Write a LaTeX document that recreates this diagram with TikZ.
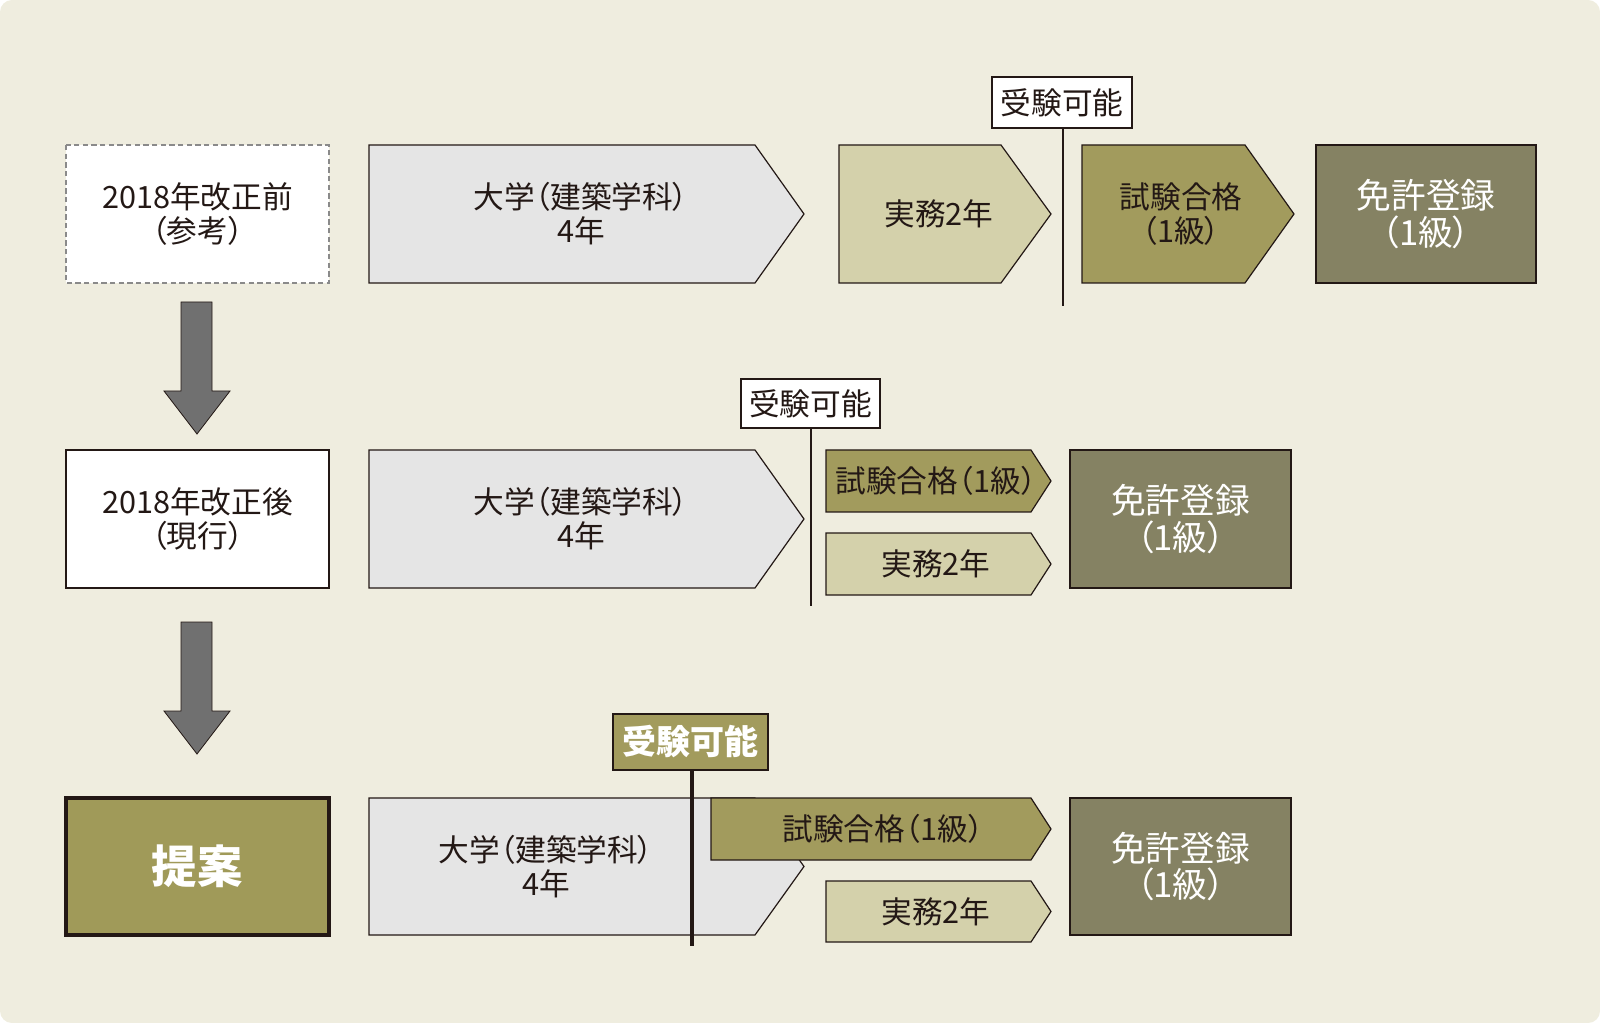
\documentclass[tikz,border=0pt]{standalone}
\usepackage{fontspec}
\newfontfamily\jp{Noto Sans CJK JP}[RawFeature=+palt]
\definecolor{bg}{HTML}{EFEDDF}
\definecolor{uni}{HTML}{E5E5E5}
\definecolor{jitsu}{HTML}{D4D1AB}
\definecolor{shiken}{HTML}{A29B5D}
\definecolor{menkyo}{HTML}{858263}
\definecolor{teian}{HTML}{A09A59}
\definecolor{dark}{HTML}{231815}
\definecolor{agray}{HTML}{707070}
\definecolor{dgray}{HTML}{8A8A8A}
\begin{document}
\begin{tikzpicture}[x=0.75pt,y=-0.75pt,
  shp/.style={draw=dark,line width=0.9pt,line join=miter},
  txt/.style={align=center,inner sep=0,text=dark,font=\jp\fontsize{23}{25.5}\selectfont},
  wtxt/.style={align=center,inner sep=0,text=white,font=\jp\fontsize{26}{27.5}\selectfont},
  lbl/.style={draw=dark,line width=0.9pt,fill=white,inner sep=0,text=dark,font=\jp\fontsize{23}{25}\selectfont},
  vline/.style={draw=dark,line width=1.5pt},
  downarrow/.style={fill=agray,draw=dark,line width=0.6pt}]
\fill[bg,rounded corners=9] (0,0) rectangle (1600,1023);
\useasboundingbox (0,0) rectangle (1600,1023);

% ---------- Row 1 ----------
\draw[fill=white,draw=dgray,line width=0.9pt,dash pattern=on 4pt off 2.5pt] (66,145) rectangle (329,283);
\node[txt] (r1a) at (197.5,214) {2018年改正前\\（参考）};
\draw[shp,fill=uni] (369,145) -- (755,145) -- (804,214) -- (755,283) -- (369,283) -- cycle;
\node[txt] (r1b) at (581,214) {大学（建築学科）\\4年};
\draw[shp,fill=jitsu] (839,145) -- (1001,145) -- (1051,214) -- (1001,283) -- (839,283) -- cycle;
\node[txt] (r1c) at (939,214) {実務2年};
\draw[shp,fill=shiken] (1082,145) -- (1245,145) -- (1294,214) -- (1245,283) -- (1082,283) -- cycle;
\node[txt] (r1d) at (1181,214) {試験合格\\（1級）};
\draw[shp,fill=menkyo] (1316,145) rectangle (1536,283);
\node[wtxt] (r1e) at (1426,214) {免許登録\\（1級）};
\node[lbl,minimum width=105pt,minimum height=38.25pt] (r1l) at (1062,102.5) {受験可能};
\coordinate (r1end) at (1063,306);
\draw[vline] (r1l.south -| r1end) -- (r1end);

% arrow 1
\draw[downarrow] (181,302) -- (212,302) -- (212,391) -- (230,391) -- (197,434) -- (164,391) -- (181,391) -- cycle;

% ---------- Row 2 ----------
\draw[shp,fill=white] (66,450) rectangle (329,588);
\node[txt] (r2a) at (197.5,519) {2018年改正後\\（現行）};
\draw[shp,fill=uni] (369,450) -- (755,450) -- (804,519) -- (755,588) -- (369,588) -- cycle;
\node[txt] (r2b) at (581,519) {大学（建築学科）\\4年};
\draw[shp,fill=shiken] (826,450) -- (1031,450) -- (1051,481) -- (1031,512) -- (826,512) -- cycle;
\node[txt] (r2c) at (936,481) {試験合格（1級）};
\draw[shp,fill=jitsu] (826,533) -- (1031,533) -- (1051,564) -- (1031,595) -- (826,595) -- cycle;
\node[txt] (r2d) at (936,564) {実務2年};
\draw[shp,fill=menkyo] (1070,450) rectangle (1291,588);
\node[wtxt] (r2e) at (1180.5,519) {免許登録\\（1級）};
\node[lbl,minimum width=104.25pt,minimum height=36.75pt] (r2l) at (810.5,403.5) {受験可能};
\coordinate (r2end) at (811,606);
\draw[vline] (r2l.south -| r2end) -- (r2end);

% arrow 2
\draw[downarrow] (181,622) -- (212,622) -- (212,711) -- (230,711) -- (197,754) -- (164,711) -- (181,711) -- cycle;

% ---------- Row 3 ----------
\draw[draw=dark,line width=3pt,fill=teian] (65.5,797.5) rectangle (328.5,934.5);
\node[inner sep=0,text=white,font=\jp\bfseries\fontsize{34}{36}\selectfont] (r3a) at (197,866) {提案};
\draw[shp,fill=uni] (369,798) -- (755,798) -- (804,866.5) -- (755,935) -- (369,935) -- cycle;
\node[txt] (r3b) at (546,866.5) {大学（建築学科）\\4年};
\draw[shp,fill=shiken] (711,798) -- (1031,798) -- (1051,829) -- (1031,860) -- (711,860) -- cycle;
\node[txt] (r3c) at (883,829) {試験合格（1級）};
\draw[shp,fill=jitsu] (826,881) -- (1031,881) -- (1051,911.5) -- (1031,942) -- (826,942) -- cycle;
\node[txt] (r3d) at (936,911.5) {実務2年};
\draw[shp,fill=menkyo] (1070,798) rectangle (1291,935);
\node[wtxt] (r3e) at (1180.5,866.5) {免許登録\\（1級）};
\node[lbl,fill=shiken,text=white,font=\jp\bfseries\fontsize{25.5}{27}\selectfont,minimum width=116.25pt,minimum height=42pt] (r3l) at (690.5,742) {受験可能};
\coordinate (r3end) at (692,946);
\draw[vline,line width=3pt] (r3l.south -| r3end) -- (r3end);
\end{tikzpicture}
\end{document}
